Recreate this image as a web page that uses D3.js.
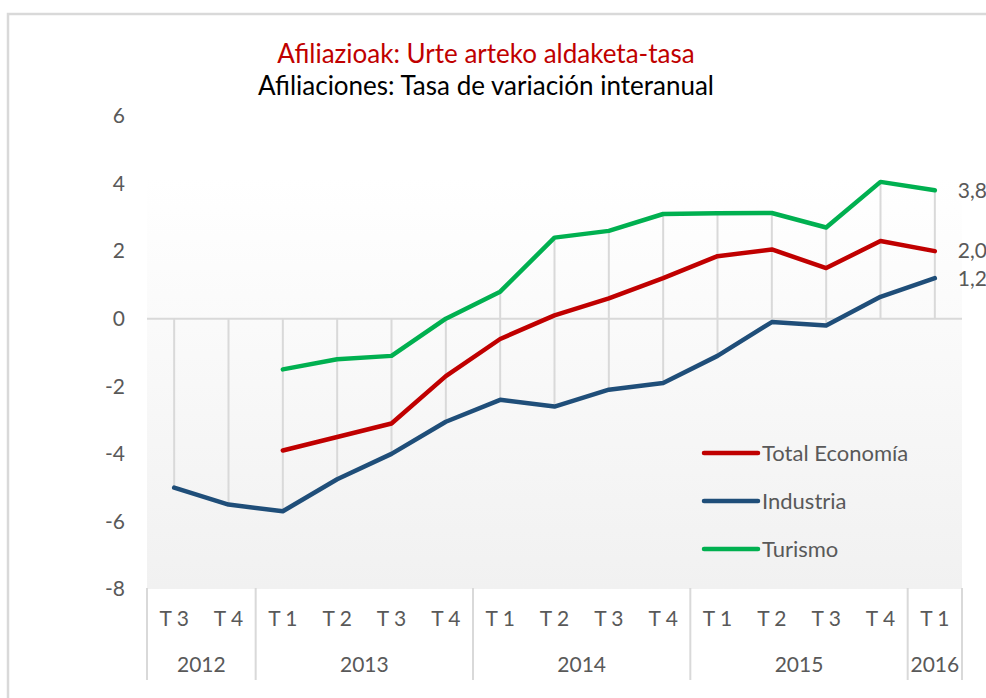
<!DOCTYPE html>
<html>
<head>
<meta charset="utf-8">
<script src="https://cdn.jsdelivr.net/npm/d3@7"></script>
<style>
  body { margin: 0; background: #fff; }
  text { font-family: Lato, "Open Sans", sans-serif; }
</style>
</head>
<body>
<div id="chart"></div>
<script>
// categories
const years = ['2012', '2013', '2014', '2015', '2016'];
const quarters = [
    ['2012', 'T 3'], ['2012', 'T 4'],
    ['2013', 'T 1'], ['2013', 'T 2'], ['2013', 'T 3'], ['2013', 'T 4'],
    ['2014', 'T 1'], ['2014', 'T 2'], ['2014', 'T 3'], ['2014', 'T 4'],
    ['2015', 'T 1'], ['2015', 'T 2'], ['2015', 'T 3'], ['2015', 'T 4'],
    ['2016', 'T 1']
];

// series values (null = no data)
const totalEconomia = [null, null, -3.9, -3.5, -3.1, -1.7, -0.6, 0.1, 0.6, 1.2, 1.85, 2.05, 1.5, 2.3, 2.0];
const industria = [-5.0, -5.5, -5.7, -4.75, -4.0, -3.05, -2.4, -2.6, -2.1, -1.9, -1.1, -0.1, -0.2, 0.65, 1.2];
const turismo = [null, null, -1.5, -1.2, -1.1, 0.0, 0.8, 2.4, 2.6, 3.1, 3.12, 3.13, 2.7, 4.05, 3.8];

const seriesNames = ['Total Economía', 'Industria', 'Turismo'];
const lastLabels = ['2,0', '1,2', '3,8'];
const yTicks = [-8, -6, -4, -2, 0, 2, 4, 6];

const colors = ['#c00000', '#1f4e79', '#00b050'];
const series = [totalEconomia, industria, turismo];

const width = 986, height = 698;
const svg = d3.select('#chart').append('svg')
    .attr('width', width)
    .attr('height', height);

// outer frame
svg.append('rect')
    .attr('x', 8).attr('y', 14)
    .attr('width', 1100).attr('height', 800)
    .attr('fill', 'none')
    .attr('stroke', '#d9d9d9')
    .attr('stroke-width', 2.5);

const keys = quarters.map((d, i) => i);
const x = d3.scaleBand().domain(keys).range([147, 962]);
const y = d3.scaleLinear().domain([-8, 6]).range([589, 116]);
const cx = i => x(i) + x.bandwidth() / 2;

// plot area background gradient
const grad = svg.append('defs').append('linearGradient')
    .attr('id', 'bg').attr('x1', 0).attr('y1', 0).attr('x2', 0).attr('y2', 1);
grad.append('stop').attr('offset', '0%').attr('stop-color', '#ffffff');
grad.append('stop').attr('offset', '100%').attr('stop-color', '#f1f1f1');

svg.append('rect')
    .attr('x', x.range()[0])
    .attr('y', 178)
    .attr('width', x.range()[1] - x.range()[0])
    .attr('height', y(-8) - 178)
    .attr('fill', 'url(#bg)');

// titles
svg.append('text')
    .attr('x', 486).attr('y', 63)
    .attr('text-anchor', 'middle')
    .attr('font-size', 26)
    .attr('fill', '#c00000')
    .text('Afiliazioak: Urte arteko aldaketa-tasa');
svg.append('text')
    .attr('x', 486).attr('y', 95)
    .attr('text-anchor', 'middle')
    .attr('font-size', 26)
    .attr('fill', '#000')
    .text('Afiliaciones: Tasa de variación interanual');

// y axis labels
svg.selectAll('.ytick')
    .data(yTicks)
    .enter().append('text')
    .attr('class', 'ytick')
    .attr('x', 125)
    .attr('y', d => y(d))
    .attr('dy', '0.35em')
    .attr('text-anchor', 'end')
    .attr('font-size', 21)
    .attr('fill', '#595959')
    .text(d => d);

// zero line
svg.append('line')
    .attr('x1', x.range()[0]).attr('x2', x.range()[1])
    .attr('y1', y(0)).attr('y2', y(0))
    .attr('stroke', '#d9d9d9')
    .attr('stroke-width', 2);

// high-low lines (from highest to lowest value, the zero line included)
svg.selectAll('.hilo')
    .data(keys)
    .enter().append('line')
    .attr('class', 'hilo')
    .attr('x1', cx).attr('x2', cx)
    .attr('y1', i => y(d3.max([0, ...series.map(s => s[i])].filter(v => v != null))))
    .attr('y2', i => y(d3.min([0, ...series.map(s => s[i])].filter(v => v != null))))
    .attr('stroke', '#d9d9d9')
    .attr('stroke-width', 2);

// series lines
const line = d3.line()
    .defined(d => d != null)
    .x((d, i) => cx(i))
    .y(d => y(d));

series.forEach((s, k) => {
    svg.append('path')
        .datum(s)
        .attr('d', line)
        .attr('fill', 'none')
        .attr('stroke', colors[k])
        .attr('stroke-width', 4.5)
        .attr('stroke-linejoin', 'round')
        .attr('stroke-linecap', 'round');

    const last = s.length - 1;
    svg.append('text')
        .attr('x', cx(last) + 23)
        .attr('y', y(s[last]))
        .attr('dy', '0.35em')
        .attr('font-size', 21)
        .attr('fill', '#595959')
        .text(lastLabels[k]);
});

// category axis: quarters
svg.selectAll('.qlabel')
    .data(keys)
    .enter().append('text')
    .attr('class', 'qlabel')
    .attr('x', cx)
    .attr('y', 626)
    .attr('text-anchor', 'middle')
    .attr('font-size', 21)
    .attr('fill', '#595959')
    .text(i => quarters[i][1]);

// category axis: years
const yearGroups = years.map(yr => {
    const idx = keys.filter(i => quarters[i][0] === yr);
    return { year: yr, x0: x(idx[0]), x1: x(idx[idx.length - 1]) + x.bandwidth() };
});

svg.selectAll('.ylabel')
    .data(yearGroups)
    .enter().append('text')
    .attr('class', 'ylabel')
    .attr('x', d => (d.x0 + d.x1) / 2)
    .attr('y', 672)
    .attr('text-anchor', 'middle')
    .attr('font-size', 21)
    .attr('fill', '#595959')
    .text(d => d.year);

const seps = yearGroups.map(d => d.x0).concat([x.range()[1]]);
svg.selectAll('.sep')
    .data(seps)
    .enter().append('line')
    .attr('class', 'sep')
    .attr('x1', d => d).attr('x2', d => d)
    .attr('y1', 588).attr('y2', 680)
    .attr('stroke', '#d9d9d9')
    .attr('stroke-width', 2);

// legend
const legend = svg.selectAll('.legend')
    .data(seriesNames)
    .enter().append('g')
    .attr('class', 'legend')
    .attr('transform', (d, i) => `translate(704, ${453 + i * 48})`);

legend.append('line')
    .attr('x1', 0).attr('x2', 54)
    .attr('stroke', (d, i) => colors[i])
    .attr('stroke-width', 4.5)
    .attr('stroke-linecap', 'round');

legend.append('text')
    .attr('x', 58)
    .attr('dy', '0.35em')
    .attr('font-size', 22)
    .attr('fill', '#595959')
    .text(d => d);
</script>
</body>
</html>
